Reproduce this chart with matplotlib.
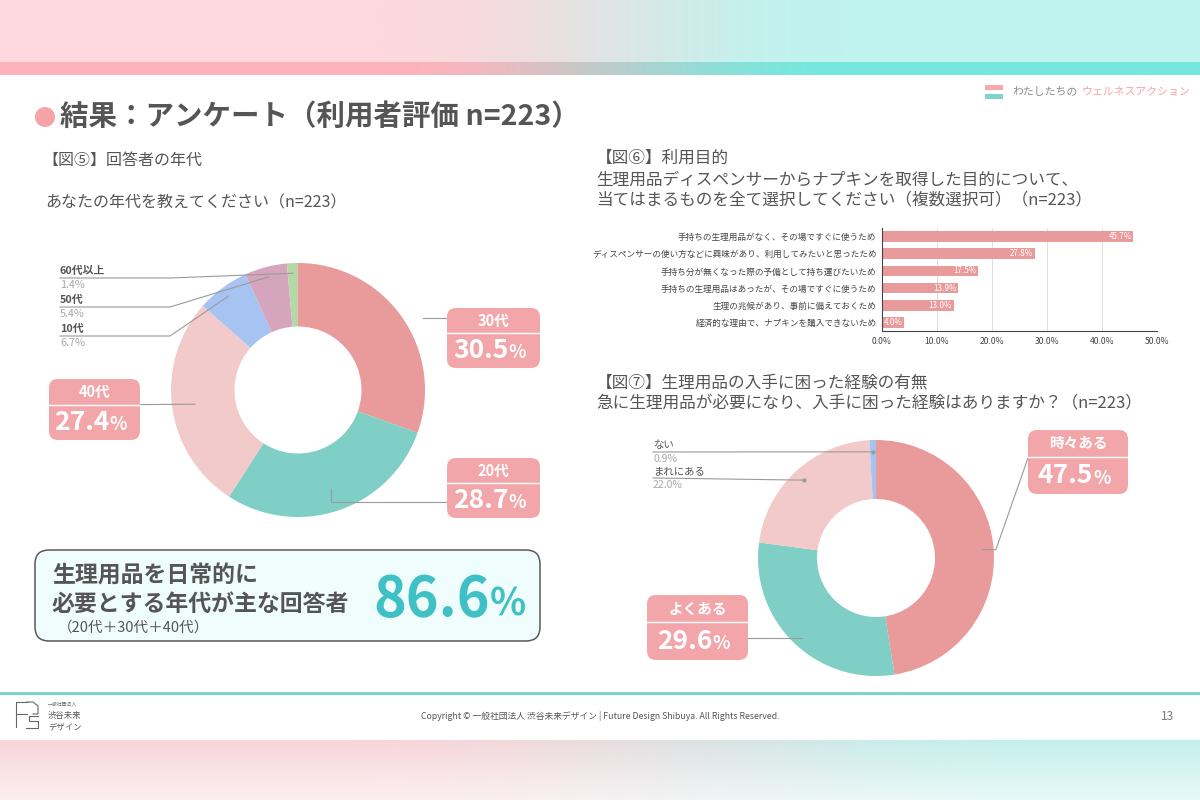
import matplotlib.pyplot as plt
from matplotlib.patches import FancyBboxPatch, Circle, Rectangle
import numpy as np

plt.rcParams['font.family'] = ['Noto Sans CJK JP', 'DejaVu Sans']

W, H = 1200, 800
GRAY = '#555555'
BOX_PINK = '#f2a6aa'
LEADER = '#9a9a9a'

# --- data ---
age_labels = ['30代', '20代', '40代', '10代', '50代', '60代以上']
age_values = [30.5, 28.7, 27.4, 6.7, 5.4, 1.4]
age_colors = ['#e99a9b', '#7fcfc6', '#f3caca', '#a7c3f2', '#d5a5bd', '#b6d7a8']

purpose_labels = ['手持ちの生理用品がなく、その場ですぐに使うため',
                  'ディスペンサーの使い方などに興味があり、利用してみたいと思ったため',
                  '手持ち分が無くなった際の予備として持ち運びたいため',
                  '手持ちの生理用品はあったが、その場ですぐに使うため',
                  '生理の兆候があり、事前に備えておくため',
                  '経済的な理由で、ナプキンを購入できないため']
purpose_values = [45.7, 27.8, 17.5, 13.9, 13.0, 4.0]
purpose_ticks = [0, 10, 20, 30, 40, 50]

trouble_labels = ['時々ある', 'よくある', 'まれにある', 'ない']
trouble_values = [47.5, 29.6, 22.0, 0.9]
trouble_colors = ['#e99a9b', '#7fcfc6', '#f3caca', '#a7c3f2']

core_ages = ['20代', '30代', '40代']
core_share = sum(v for l, v in zip(age_labels, age_values) if l in core_ages)


def px_axes(fig, x0, y0, w, h):
    return fig.add_axes([x0 / W, 1 - (y0 + h) / H, w / W, h / H])


def hex_rgb(c):
    c = c.lstrip('#')
    return np.array([int(c[i:i + 2], 16) for i in (0, 2, 4)]) / 255.0


def hgrad(ax, x0, y0, x1, y1, c1, c2, a=0.3, b=0.7, fade=0.0):
    nx, ny = 300, 40
    t = np.clip((np.linspace(0, 1, nx) - a) / (b - a), 0, 1)
    t = t * t * (3 - 2 * t)
    row = (1 - t)[:, None] * hex_rgb(c1) + t[:, None] * hex_rgb(c2)
    img = np.repeat(row[None, :, :], ny, axis=0)
    if fade:
        f = np.linspace(0, fade, ny)[:, None, None]
        img = img * (1 - f) + f
    ax.imshow(img, extent=(x0, x1, y1, y0), aspect='auto', zorder=0)


def ring_point(cx, cy, r, values, i):
    cum = sum(values[:i]) + values[i] / 2
    ang = cum / sum(values) * 2 * np.pi
    return cx + r * np.sin(ang), cy - r * np.cos(ang)


def value_box(ax, x, y, w, h, name, val):
    ax.add_patch(FancyBboxPatch((x, y), w, h, boxstyle='round,pad=0,rounding_size=9',
                                fc=BOX_PINK, ec='none', zorder=3))
    ax.plot([x, x + w], [y + h * 0.42, y + h * 0.42], color='white', lw=1, zorder=4)
    ax.text(x + w / 2, y + h * 0.21, name, ha='center', va='center', color='white',
            fontsize=10.5, fontweight='bold', zorder=5)
    ax.text(x + w / 2 + 15, y + h * 0.71, f'{val:.1f}', ha='right', va='center', color='white',
            fontsize=19, fontweight='bold', zorder=5)
    ax.text(x + w / 2 + 15, y + h * 0.75, '%', ha='left', va='center', color='white',
            fontsize=13, fontweight='bold', zorder=5)


def leader(ax, pts):
    xs, ys = zip(*pts)
    ax.plot(xs, ys, color=LEADER, lw=0.8, zorder=2)


def donut(fig, cx, cy, r, values, colors):
    ax = px_axes(fig, cx - r, cy - r, 2 * r, 2 * r)
    ax.pie(values, colors=colors, startangle=90, counterclock=False, radius=1,
           wedgeprops=dict(width=0.5, edgecolor='none'))
    ax.set_xlim(-1, 1)
    ax.set_ylim(-1, 1)
    ax.axis('off')
    return ax


fig = plt.figure(figsize=(12, 8), dpi=100)
fig.patch.set_facecolor('white')

bg = px_axes(fig, 0, 0, W, H)
bg.set_xlim(0, W)
bg.set_ylim(H, 0)
bg.axis('off')
hgrad(bg, 0, 0, W, 62, '#fdd8dc', '#bff3ee', 0.32, 0.70)
hgrad(bg, 0, 62, W, 75, '#ffb2ba', '#76e8de', 0.32, 0.70)
hgrad(bg, 0, 740, W, H, '#f8d6da', '#c5efec', 0.3, 0.85, fade=0.6)

# donuts
L_CX, L_CY, L_R = 298, 390, 127
R_CX, R_CY, R_R = 876, 558, 118
donut(fig, L_CX, L_CY, L_R, age_values, age_colors)
donut(fig, R_CX, R_CY, R_R, trouble_values, trouble_colors)

# bar chart
bx = px_axes(fig, 882, 228, 275, 103)
ypos = np.arange(len(purpose_values))
bx.barh(ypos, purpose_values, height=0.62, color='#e99a9b', zorder=2)
for yv, v in zip(ypos, purpose_values):
    bx.text(v - 0.3, yv, f'{v:.1f}%', ha='right', va='center', color='white', fontsize=5.8, zorder=3)
bx.set_xlim(purpose_ticks[0], purpose_ticks[-1])
bx.set_ylim(len(purpose_values) - 0.5, -0.5)
bx.set_xticks(purpose_ticks)
bx.set_xticklabels([f'{t:.1f}%' for t in purpose_ticks])
bx.set_yticks(ypos)
bx.set_yticklabels(purpose_labels)
bx.tick_params(length=0, labelsize=6.2, colors='#444444', pad=4)
bx.xaxis.grid(True, color='#d9d9d9', lw=0.6)
bx.set_axisbelow(True)
for s in ['top', 'right']:
    bx.spines[s].set_visible(False)
for s in ['left', 'bottom']:
    bx.spines[s].set_color('#444444')
    bx.spines[s].set_linewidth(0.8)
bx.set_facecolor('none')

# overlay for text / annotations
ov = px_axes(fig, 0, 0, W, H)
ov.set_xlim(0, W)
ov.set_ylim(H, 0)
ov.axis('off')
ov.patch.set_alpha(0)

# header
ov.add_patch(Circle((45, 117), 10, fc='#f6a3a7', ec='none'))
ov.text(60, 117, '結果：アンケート（利用者評価 n=223）', fontsize=20.5, fontweight='bold',
        color=GRAY, va='center', ha='left')
ov.add_patch(Rectangle((985, 85), 18, 5, fc='#f8a9ab', ec='none'))
ov.add_patch(Rectangle((985, 94), 18, 5, fc='#7fd5cc', ec='none'))
ov.text(1012, 92, 'わたしたちの', fontsize=7.8, color='#8a8a8a', va='center', ha='left')
ov.text(1082, 92, 'ウェルネスアクション', fontsize=7.8, color='#f4a3a8', va='center', ha='left')

# left headings
ov.text(42, 160, '【図⑤】回答者の年代', fontsize=11.5, color=GRAY, va='center')
ov.text(45, 203, 'あなたの年代を教えてください（n=223）', fontsize=11.5, color=GRAY, va='center')

# left donut labels
big_boxes = {'30代': (447, 308, 93, 60), '20代': (447, 458, 93, 60), '40代': (49, 379, 91, 61)}
for i, (lab, v) in enumerate(zip(age_labels, age_values)):
    if lab in big_boxes:
        x, y, w, h = big_boxes[lab]
        px, py = ring_point(L_CX, L_CY, L_R * 0.82, age_values, i)
        ly = y + h * 0.42 if lab == '40代' else (y + 10 if lab == '30代' else y + h * 0.73)
        if lab == '40代':
            leader(ov, [(px, py), (x + w, ly)])
        else:
            leader(ov, [(px, py), (px, ly), (x, ly)] if lab == '20代' else [(px + 40, ly), (x, ly)])
        value_box(ov, x, y, w, h, lab, v)

small = ['60代以上', '50代', '10代']
for k, lab in enumerate(small):
    i = age_labels.index(lab)
    ty = 271 + k * 29
    ov.text(60, ty, lab, fontsize=7.8, color=GRAY, va='center', fontweight='bold')
    ov.text(60, ty + 14, f'{age_values[i]:.1f}%', fontsize=7.8, color='#a8a8a8', va='center')
    px, py = ring_point(L_CX, L_CY, L_R * 0.92, age_values, i)
    leader(ov, [(60, ty + 7), (170, ty + 7), (px, py)])

# summary box
ov.add_patch(FancyBboxPatch((35, 550), 505, 91, boxstyle='round,pad=0,rounding_size=14',
                            fc='#effdfd', ec='#5a5a5a', lw=1.1))
ov.text(52, 576, '生理用品を日常的に', fontsize=16.5, fontweight='bold', color=GRAY, va='center')
ov.text(52, 604, '必要とする年代が主な回答者', fontsize=16.5, fontweight='bold', color=GRAY, va='center')
ov.text(58, 628, '（20代＋30代＋40代）', fontsize=10.5, color=GRAY, va='center')
ov.text(490, 600, f'{core_share:.1f}', fontsize=40, fontweight='bold', color='#3fc0c4',
        va='center', ha='right')
ov.text(490, 604, '%', fontsize=27, fontweight='bold', color='#3fc0c4', va='center', ha='left')

# right headings
ov.text(596, 158, '【図⑥】利用目的', fontsize=12, color=GRAY, va='center')
ov.text(596, 180, '生理用品ディスペンサーからナプキンを取得した目的について、', fontsize=12,
        color=GRAY, va='center')
ov.text(596, 200, '当てはまるものを全て選択してください（複数選択可）（n=223）', fontsize=12,
        color=GRAY, va='center')
ov.text(596, 383, '【図⑦】生理用品の入手に困った経験の有無', fontsize=12, color=GRAY, va='center')
ov.text(596, 404, '急に生理用品が必要になり、入手に困った経験はありますか？（n=223）', fontsize=12,
        color=GRAY, va='center')

# right donut labels
i = trouble_labels.index('時々ある')
px, py = ring_point(R_CX, R_CY, R_R * 0.9, trouble_values, i)
leader(ov, [(px, py), (px + 14, py), (1028, 458)])
value_box(ov, 1028, 430, 100, 64, '時々ある', trouble_values[i])

i = trouble_labels.index('よくある')
px, py = ring_point(R_CX, R_CY, R_R * 0.9, trouble_values, i)
leader(ov, [(748, 638), (px, 638)])
value_box(ov, 647, 595, 101, 65, 'よくある', trouble_values[i])

for k, lab in enumerate(['ない', 'まれにある']):
    i = trouble_labels.index(lab)
    ty = 445 + k * 26
    ov.text(653, ty, lab, fontsize=7.5, color=GRAY, va='center')
    ov.text(653, ty + 14, f'{trouble_values[i]:.1f}%', fontsize=7.5, color='#a8a8a8', va='center')
    px, py = ring_point(R_CX, R_CY, R_R * 0.9, trouble_values, i)
    leader(ov, [(653, ty + 7), (px, py)])
    ov.plot(px, py, 'o', ms=2, color=LEADER)

# footer
ov.plot([0, W], [693, 693], color='#7ed4c8', lw=2.2)
ov.text(600, 716, 'Copyright © 一般社団法人 渋谷未来デザイン | Future Design Shibuya. All Rights Reserved.',
        fontsize=6.3, color='#555555', ha='center', va='center')
ov.text(1167, 716, '13', fontsize=8.5, color='#777777', ha='center', va='center')
logo = [[(27, 702), (16, 702), (16, 727)], [(16, 714), (27, 714)], [(27, 702), (33, 702), (38, 706), (38, 714), (33, 714)],
        [(38, 716), (29, 716), (29, 721), (38, 721), (38, 728), (26, 728)]]
for seg in logo:
    xs, ys = zip(*seg)
    ov.plot(xs, ys, color='#666666', lw=0.8)
ov.text(48, 704, '一般社団法人', fontsize=3.5, color='#666666', va='center')
ov.text(48, 715, '渋谷未来', fontsize=6, color='#555555', va='center')
ov.text(48, 727, 'デザイン', fontsize=6, color='#555555', va='center')

fig.savefig('out.png', dpi=100)
